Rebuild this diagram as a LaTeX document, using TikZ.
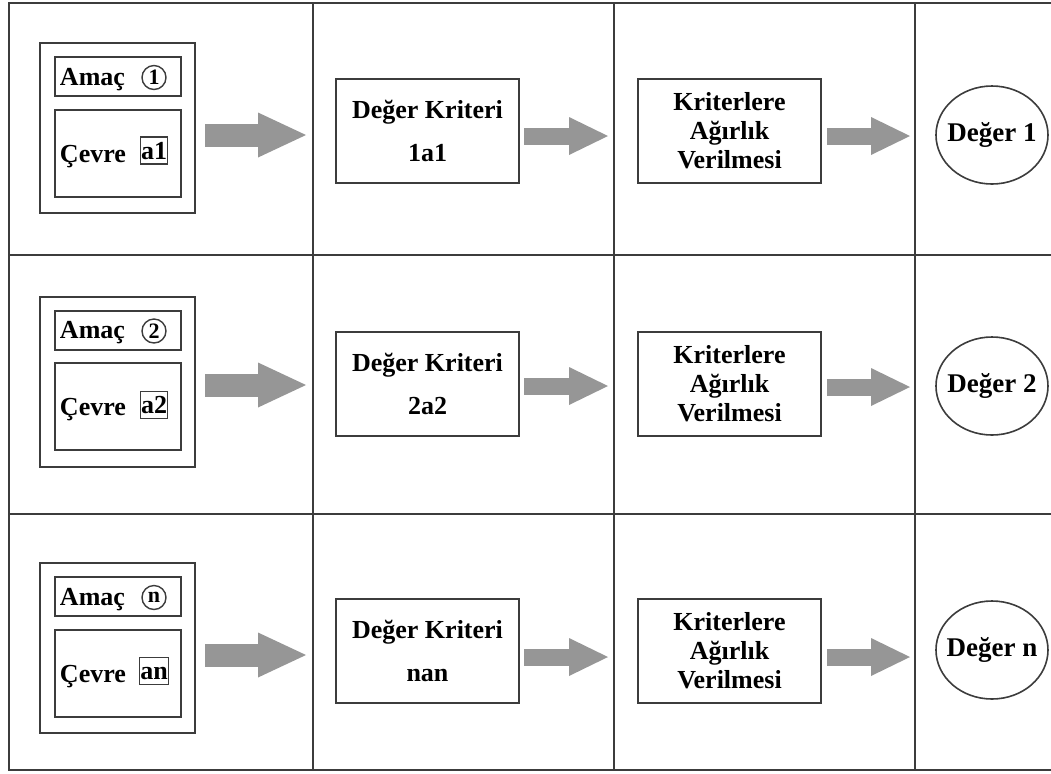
\documentclass[tikz,border=0pt]{standalone}
\usepackage{fontspec}
\setmainfont{Liberation Serif}
\usetikzlibrary{arrows.meta}
\usetikzlibrary{shapes.geometric}
\usetikzlibrary{calc}
\definecolor{linegray}{RGB}{60,60,60}
\definecolor{arrowgray}{RGB}{150,150,150}
\tikzset{cell/.style = {draw=linegray, line width=1pt}}
\tikzset{frame/.style = {draw=linegray, line width=1pt, minimum width=77.5pt, minimum height=85pt}}
\tikzset{goal/.style = {draw=linegray, line width=1pt, text width=58pt, inner xsep=2.5pt, minimum height=19.5pt, align=left,
                        text height=9.5pt, text depth=1pt, font=\fontsize{13}{15}\selectfont\bfseries}}
\tikzset{env/.style = {goal, minimum height=43.5pt}}
\tikzset{numcirc/.style = {draw=linegray, circle, line width=0.7pt, inner sep=0, minimum size=12pt,
                           font=\fontsize{11}{11}\selectfont\bfseries}}
\tikzset{tag/.style = {draw=linegray, line width=0.7pt, inner xsep=0.3pt, inner ysep=2.3pt, text height=8.8pt, text depth=0pt,
                       font=\fontsize{13}{13}\selectfont\bfseries}}
\tikzset{critbox/.style = {draw=linegray, line width=1pt, minimum width=91.5pt, minimum height=52pt, align=center,
                           font=\fontsize{13}{15}\selectfont\bfseries}}
\tikzset{weightbox/.style = {critbox, font=\fontsize{13}{14.5}\selectfont\bfseries}}
\tikzset{valnode/.style = {draw=linegray, ellipse, line width=0.8pt, minimum width=56pt, minimum height=49pt, inner sep=-3.5pt,
                           font=\fontsize{13.5}{15}\selectfont\bfseries}}
\tikzset{bigarrow/.style = {arrowgray, line width=11.5pt, -{Triangle[length=24pt, width=22.5pt, line width=0pt]}}}
\tikzset{smallarrow/.style = {arrowgray, line width=8.5pt, -{Triangle[length=19.5pt, width=19pt, line width=0pt]}}}

\begin{document}
\begin{tikzpicture}[x=0.5pt, y=-0.5pt]
      \useasboundingbox (0,0) rectangle (1051,773);

      \draw [cell] (1051,3) -- (9,3) -- (9,770) -- (1051,770);
      \draw [cell] (9,255) -- (1051,255);
      \draw [cell] (9,514) -- (1051,514);
      \draw [cell] (313,3) -- (313,770);
      \draw [cell] (614,3) -- (614,770);
      \draw [cell] (915,3) -- (915,770);

      \node [frame] (outer1) at (117.5,128) {};
      \node [goal] (goal1) at (118,76.5) {Amaç};
      \node [numcirc] (num1) at (154,77.5) {1};
      \node [env] (env1) at (118,153.5) {Çevre};
      \node [tag] (tag1) at (154,150.5) {a1};
      \node [critbox] (crit1) at (427.5,131) {Değer Kriteri\\[6.5pt]1a1};
      \node [weightbox] (weight1) at (729.5,131) {Kriterlere\\Ağırlık\\Verilmesi};
      \node [valnode] (val1) at (992,135) {Değer 1};
      \coordinate (p1a) at (306,135);
      \coordinate (p1b) at (608,136);
      \coordinate (p1c) at (910,136);
      \draw [bigarrow] ($(outer1.east |- p1a) + (9,0)$) -- (p1a);
      \draw [smallarrow] ($(crit1.east |- p1b) + (4,0)$) -- (p1b);
      \draw [smallarrow] ($(weight1.east |- p1c) + (5,0)$) -- (p1c);

      \node [frame] (outer2) at (117.5,381.5) {};
      \node [goal] (goal2) at (118,330) {Amaç};
      \node [numcirc] (num2) at (154,331) {2};
      \node [env] (env2) at (118,406.5) {Çevre};
      \node [tag] (tag2) at (154,405) {a2};
      \node [critbox] (crit2) at (427.5,384) {Değer Kriteri\\[6.5pt]2a2};
      \node [weightbox] (weight2) at (729.5,384) {Kriterlere\\Ağırlık\\Verilmesi};
      \node [valnode] (val2) at (992,386) {Değer 2};
      \coordinate (p2a) at (306,385);
      \coordinate (p2b) at (608,386);
      \coordinate (p2c) at (910,387);
      \draw [bigarrow] ($(outer2.east |- p2a) + (9,0)$) -- (p2a);
      \draw [smallarrow] ($(crit2.east |- p2b) + (4,0)$) -- (p2b);
      \draw [smallarrow] ($(weight2.east |- p2c) + (5,0)$) -- (p2c);

      \node [frame] (outer3) at (117.5,648) {};
      \node [goal] (goal3) at (118,596.5) {Amaç};
      \node [numcirc] (num3) at (154,597.5) {n};
      \node [env] (env3) at (118,673.5) {Çevre};
      \node [tag] (tag3) at (154,671) {an};
      \node [critbox] (crit3) at (427.5,650.5) {Değer Kriteri\\[6.5pt]nan};
      \node [weightbox] (weight3) at (729.5,650.5) {Kriterlere\\Ağırlık\\Verilmesi};
      \node [valnode] (val3) at (992,650) {Değer n};
      \coordinate (p3a) at (306,655);
      \coordinate (p3b) at (608,657);
      \coordinate (p3c) at (910,657);
      \draw [bigarrow] ($(outer3.east |- p3a) + (9,0)$) -- (p3a);
      \draw [smallarrow] ($(crit3.east |- p3b) + (4,0)$) -- (p3b);
      \draw [smallarrow] ($(weight3.east |- p3c) + (5,0)$) -- (p3c);
    \end{tikzpicture}
\end{document}
